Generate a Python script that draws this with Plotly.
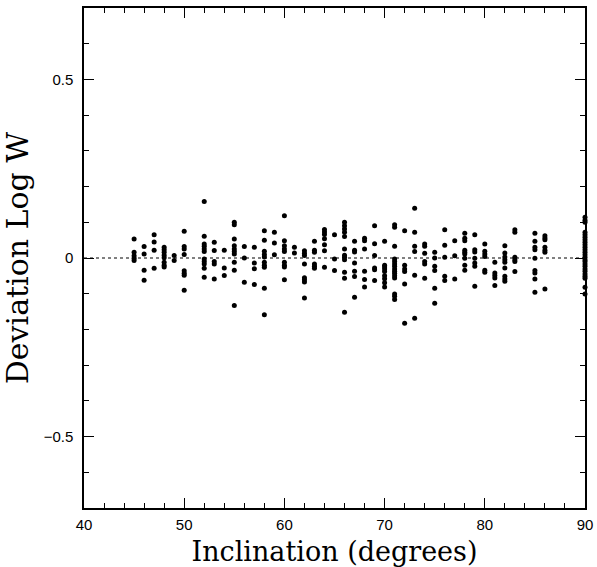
import plotly.graph_objects as go

# inclination (deg) of each column of points
incl = [45, 46, 47, 48, 49, 50, 52, 53, 54, 55, 56, 57, 58, 59, 60, 61, 62, 63,
        64, 65, 66, 67, 68, 69, 70, 71, 72, 73, 74, 75, 76, 77, 78, 79, 80, 81,
        82, 83, 85, 86, 90]

# deviation in log W for the points in each column
dev = [
    [0.053, 0.016, 0.006, -0.001, -0.007],
    [0.032, 0.011, -0.034, -0.062],
    [0.065, 0.045, 0.022, -0.029],
    [0.030, 0.023, 0.016, 0.008, 0.001, -0.012, -0.020, -0.025],
    [0.007, -0.007],
    [0.075, 0.032, 0.025, 0.010, -0.036, -0.043, -0.048, -0.090],
    [0.158, 0.061, 0.039, 0.033, 0.025, 0.018, -0.003, -0.010, -0.017, -0.029, -0.054],
    [0.044, 0.021, -0.010, -0.017, -0.059],
    [0.022, -0.028, -0.049],
    [0.100, 0.093, 0.053, 0.034, 0.025, 0.018, 0.011, -0.012, -0.034, -0.133],
    [0.032, 0.000, -0.068],
    [0.030, -0.014, -0.030, -0.074],
    [0.076, 0.050, 0.019, 0.010, 0.003, -0.012, -0.020, -0.026, -0.085, -0.159],
    [0.072, 0.042, 0.009],
    [0.118, 0.048, 0.034, 0.025, 0.018, -0.012, -0.020, -0.025, -0.061],
    [0.030, 0.014],
    [0.020, 0.013, 0.007, -0.017, -0.055, -0.061, -0.067, -0.112],
    [0.047, 0.022, 0.016, -0.017, -0.023, -0.029],
    [0.080, 0.073, 0.066, 0.054, 0.037, 0.020, -0.026],
    [0.065, -0.003, -0.035],
    [0.100, 0.090, 0.081, 0.072, 0.060, 0.025, 0.008, 0.002, -0.005, -0.040, -0.057, -0.152],
    [0.047, 0.022, 0.017, -0.014, -0.037, -0.052, -0.110],
    [0.055, 0.048, 0.025, -0.037, -0.060, -0.081],
    [0.090, 0.040, 0.007, -0.028, -0.033, -0.063],
    [0.047, -0.020, -0.025, -0.031, -0.038, -0.050, -0.058, -0.069, -0.081],
    [0.093, 0.086, 0.033, -0.003, -0.010, -0.017, -0.023, -0.031, -0.037, -0.043,
     -0.050, -0.056, -0.101, -0.107, -0.116],
    [0.076, -0.020, -0.031, -0.038, -0.073, -0.183],
    [0.139, 0.072, 0.033, 0.018, -0.048, -0.169],
    [0.039, 0.033, 0.013, -0.010, -0.017, -0.057],
    [0.016, 0.000, -0.023, -0.035, -0.085, -0.127],
    [0.079, 0.036, 0.002, -0.051, -0.063],
    [0.048, 0.006, -0.059],
    [0.069, 0.055, 0.048, 0.022, 0.016, 0.011, -0.001, -0.020, -0.034],
    [0.065, 0.023, 0.017, -0.001, -0.014, -0.023, -0.079],
    [0.039, 0.019, 0.011, 0.004, -0.034, -0.040],
    [-0.012, -0.042, -0.049, -0.056, -0.077],
    [0.034, 0.014, 0.003, -0.005, -0.012, -0.028, -0.051, -0.059, -0.065],
    [0.079, 0.072, 0.002, -0.005, -0.010, -0.038],
    [0.069, 0.047, 0.030, 0.023, -0.001, -0.035, -0.042, -0.059, -0.096],
    [0.062, 0.056, 0.051, 0.030, 0.022, 0.016, -0.087],
    [0.114, 0.106, 0.100, 0.072, 0.065, 0.058, 0.051, 0.044, 0.037, 0.030, 0.023,
     0.016, 0.009, 0.002, -0.005, -0.010, -0.017, -0.023, -0.031, -0.037, -0.045,
     -0.051, -0.057, -0.082, -0.101],
]

xs, ys = [], []
for i, vals in zip(incl, dev):
    xs += [i] * len(vals)
    ys += vals

fig = go.Figure()
fig.add_trace(go.Scatter(x=xs, y=ys, mode='markers', cliponaxis=False,
                         marker=dict(size=5, color='black', line=dict(width=0)),
                         showlegend=False, hoverinfo='skip'))

# dotted zero line
fig.add_shape(type='line', xref='x domain', yref='y', x0=0, x1=1, y0=0, y1=0,
              line=dict(color='black', width=1, dash='dot'))

axis_common = dict(showgrid=False, zeroline=False, showline=True, linecolor='black',
                   linewidth=1.5, mirror='ticks', ticks='inside', ticklen=10,
                   tickwidth=1, tickcolor='black', automargin=False,
                   tickfont=dict(family='Liberation Sans', size=15, color='black'))

fig.update_xaxes(range=[40, 90], tickmode='array', tickvals=[40, 50, 60, 70, 80, 90],
                 minor=dict(dtick=2, ticks='inside', ticklen=5, tickcolor='black'),
                 title=dict(text='Inclination (degrees)', standoff=14,
                            font=dict(family='DejaVu Serif', size=27, color='black')),
                 ticklabelstandoff=2,
                 **axis_common)
fig.update_yaxes(range=[-0.7, 0.7], tickmode='array', tickvals=[-0.5, 0, 0.5],
                 ticktext=['\u22120.5', '0', '0.5'],
                 minor=dict(dtick=0.1, ticks='inside', ticklen=5, tickcolor='black'),
                 title=dict(text='Deviation Log W', standoff=10,
                            font=dict(family='DejaVu Serif', size=30, color='black')),
                 ticklabelstandoff=6,
                 **axis_common)

fig.update_layout(width=597, height=567, plot_bgcolor='white', paper_bgcolor='white',
                  margin=dict(l=84, r=12, t=8, b=59))

# drop the default body margin so the figure fills the window exactly
fig.write_html("out.html", config={'displayModeBar': False},
               post_script="document.body.style.margin='0';"
                           "document.body.style.overflow='hidden';")
